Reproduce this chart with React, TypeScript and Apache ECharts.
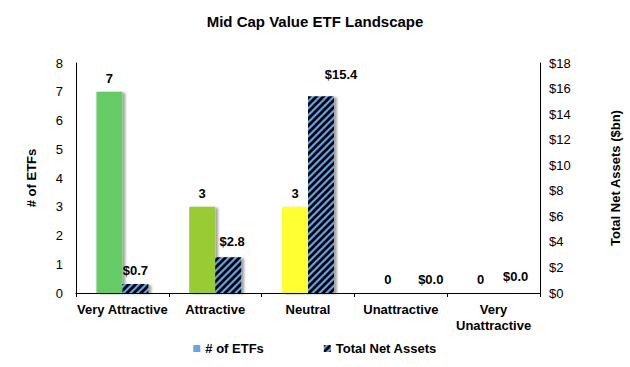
import React, { useEffect, useRef } from "react";
import * as echarts from "echarts";

const categories = ["Very Attractive", "Attractive", "Neutral", "Unattractive", "Very\nUnattractive"];
const etfCounts = [7, 3, 3, 0, 0];
const netAssets = [0.7, 2.8, 15.4, 0.0, 0.0];
const countTicks = [0, 1, 2, 3, 4, 5, 6, 7, 8];
const assetTicks = [0, 2, 4, 6, 8, 10, 12, 14, 16, 18];

const barColors = ["#66CC66", "#99CC33", "#FFFF33", "#66CC66", "#66CC66"];
const assetLabelOffsets = [[0, 0], [4, -2], [20, -8], [17, 0], [9, -3]];

const FONT = "'Liberation Sans', Arial, sans-serif";

function makeHatch(): HTMLCanvasElement {
  const s = 7;
  const c = document.createElement("canvas");
  c.width = s;
  c.height = s;
  const ctx = c.getContext("2d")!;
  ctx.fillStyle = "#5BA3EC";
  ctx.fillRect(0, 0, s, s);
  ctx.strokeStyle = "#000000";
  ctx.lineWidth = 2.7;
  for (const k of [-s, 0, s]) {
    ctx.beginPath();
    ctx.moveTo(k - 1, s + 1);
    ctx.lineTo(k + s + 1, -1);
    ctx.stroke();
  }
  return c;
}

export default function App() {
  const ref = useRef<HTMLDivElement>(null);
  useEffect(() => {
    document.body.style.margin = "0";
    if (!ref.current) return;
    const chart = echarts.init(ref.current, undefined, { renderer: "svg" });
    const shadow = {
      shadowColor: "rgba(0,0,0,0.35)",
      shadowBlur: 2,
      shadowOffsetX: 3,
      shadowOffsetY: 1,
    };
    const hatch = { image: makeHatch(), repeat: "repeat" };
    chart.setOption({
      animation: false,
      backgroundColor: "#ffffff",
      textStyle: { fontFamily: FONT },
      title: {
        text: "Mid Cap Value ETF Landscape",
        left: "center",
        top: 9,
        textStyle: { fontFamily: FONT, fontSize: 15, fontWeight: "bold", color: "#000" },
      },
      legend: {
        bottom: 7,
        left: "center",
        itemWidth: 7,
        itemHeight: 7,
        itemGap: 60,
        textStyle: { fontFamily: FONT, fontSize: 13, fontWeight: "bold", color: "#000" },
        data: [
          { name: "# of ETFs", icon: "rect" },
          { name: "Total Net Assets", icon: "rect" },
        ],
      },
      grid: { left: 76, right: 87, top: 63, bottom: 74 },
      xAxis: {
        type: "category",
        data: categories,
        axisLine: { lineStyle: { color: "#000", width: 1 } },
        axisTick: { show: true, length: 4, lineStyle: { color: "#000" } },
        axisLabel: {
          fontFamily: FONT,
          fontSize: 13,
          fontWeight: "bold",
          color: "#000",
          lineHeight: 16,
          margin: 8,
          interval: 0,
        },
      },
      yAxis: [
        {
          type: "value",
          min: countTicks[0],
          max: countTicks[countTicks.length - 1],
          interval: 1,
          name: "# of ETFs",
          nameLocation: "middle",
          nameGap: 38,
          nameTextStyle: { fontFamily: FONT, fontSize: 13, fontWeight: "bold", color: "#000" },
          axisLine: { show: true, lineStyle: { color: "#000" } },
          axisTick: { show: false },
          splitLine: { show: false },
          axisLabel: { fontFamily: FONT, fontSize: 13, color: "#000", margin: 13 },
        },
        {
          type: "value",
          min: assetTicks[0],
          max: assetTicks[assetTicks.length - 1],
          interval: 2,
          name: "Total Net Assets ($bn)",
          nameLocation: "middle",
          nameGap: 69,
          nameRotate: 90,
          nameTextStyle: { fontFamily: FONT, fontSize: 13, fontWeight: "bold", color: "#000" },
          axisLine: { show: true, lineStyle: { color: "#000" } },
          axisTick: { show: false },
          splitLine: { show: false },
          axisLabel: {
            fontFamily: FONT,
            fontSize: 13,
            color: "#000",
            margin: 9,
            formatter: (v: number) => "$" + v,
          },
        },
      ],
      series: [
        {
          name: "# of ETFs",
          type: "bar",
          yAxisIndex: 0,
          barWidth: 26,
          barGap: "0%",
          itemStyle: { color: "#66A6E8", ...shadow },
          label: {
            show: true,
            position: "top",
            distance: 7,
            fontFamily: FONT,
            fontSize: 13,
            fontWeight: "bold",
            color: "#000",
          },
          data: etfCounts.map((v, i) => ({ value: v, itemStyle: { color: barColors[i] } })),
        },
        {
          name: "Total Net Assets",
          type: "bar",
          yAxisIndex: 1,
          barWidth: 26,
          barGap: "0%",
          itemStyle: {
            color: hatch,
            ...shadow,
          },
          label: {
            show: true,
            position: "top",
            distance: 7,
            fontFamily: FONT,
            fontSize: 13,
            fontWeight: "bold",
            color: "#000",
            formatter: (p: any) => "$" + Number(p.value).toFixed(1),
          },
          data: netAssets.map((v, i) => ({ value: v, label: { offset: assetLabelOffsets[i] } })),
        },
      ],
    });
    return () => chart.dispose();
  }, []);
  return <div ref={ref} style={{ width: 630, height: 367 }} />;
}
